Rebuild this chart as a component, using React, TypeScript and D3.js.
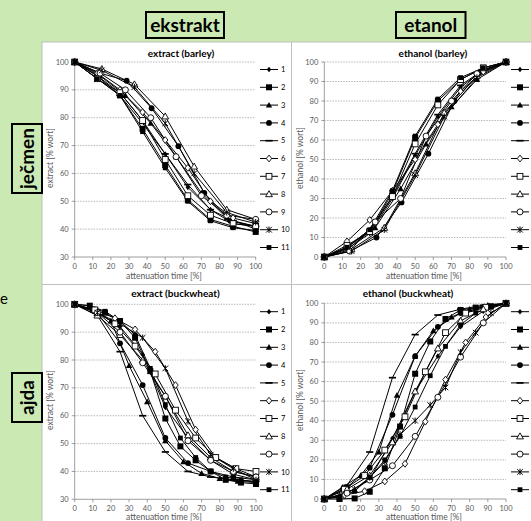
import React from 'react';
import * as d3 from 'd3';

// ---------- DATA ----------
const seriesNames = ['1', '2', '3', '4', '5', '6', '7', '8', '9', '10', '11'];
const markerTypes = ['sdiamond', 'square', 'triangle', 'circle', 'dash', 'odiamond', 'osquare', 'otriangle', 'ocircle', 'star', 'ssquare'];

const xTicks = [0, 10, 20, 30, 40, 50, 60, 70, 80, 90, 100];
const extractTicks = [30, 40, 50, 60, 70, 80, 90, 100];
const ethanolTicks = [0, 10, 20, 30, 40, 50, 60, 70, 80, 90, 100];

const g8 = [0, 12.5, 25, 37.5, 50, 62.5, 75, 87.5, 100];
const g12 = [0, 8.3, 16.7, 25, 33.3, 41.7, 50, 58.3, 66.7, 75, 83.3, 91.7, 100];
const g9 = [0, 11.1, 22.2, 33.3, 44.4, 55.6, 66.7, 77.8, 88.9, 100];
const g10 = [0, 10, 20, 30, 40, 50, 60, 70, 80, 90, 100];
const g7a = [0, 14, 28, 42, 56, 70, 84, 100];
const g7b = [0, 14, 28.7, 42.5, 57.3, 71.6, 86, 100];
const g6 = [0, 15, 33, 50, 66, 84, 100];

const extractBarleyX = [g8, g8, g7a, g7b, g8, g8, g8, g6, g7a, g6, g8];
const extractBarleyY = [
  [100, 95, 89, 79, 67, 55, 47, 42, 41],
  [100, 94, 88, 76, 63, 50.5, 43.5, 41, 39],
  [100, 95, 88, 78, 66, 53, 44, 40],
  [100, 96, 93.3, 83.4, 69.8, 53, 43, 41],
  [100, 95, 88, 78, 67, 56, 47, 43, 41],
  [100, 96, 90, 82, 72, 62, 50, 44, 42],
  [100, 94, 89, 79, 65, 52, 45, 42, 41],
  [100, 97.5, 92, 80.5, 62.5, 47, 43.5],
  [100, 96, 90, 80, 66, 52, 45, 43.5],
  [100, 97, 91, 78, 60, 46, 42.5],
  [100, 94, 88, 75, 62, 50, 43, 40.5, 39.5],
];

const ethanolBarleyX = [g8, g8, g7a, g7b, g8, g8, g8, g6, g7a, g6, g8];
const ethanolBarleyY = [
  [0, 4, 12, 30, 52, 72, 87, 96, 100],
  [0, 5, 13, 33, 61, 80, 91, 97, 100],
  [0, 5, 15, 35, 58, 77, 91, 100],
  [0, 3, 10, 28, 53, 80, 95, 100],
  [0, 5, 14, 31, 53, 73, 88, 96, 100],
  [0, 8, 19, 34, 50, 68, 85, 95, 100],
  [0, 6, 13, 31, 58, 78, 91, 97, 100],
  [0, 4, 15, 43, 74, 93, 100],
  [0, 3, 18, 30, 62, 80, 94, 100],
  [0, 3, 14, 42, 72, 92, 100],
  [0, 5, 14, 34, 62, 81, 92, 97, 100],
];

const extractBuckX = [g8, g12, g10, g8, g8, g9, g9, g8, g8, g8, g12];
const extractBuckY = [
  [100, 97, 92, 82, 63, 52, 44, 39, 37],
  [100, 99.5, 97, 94, 88, 76, 59, 49, 44, 40, 37, 36, 35.5],
  [100, 98, 94, 78, 65, 51, 43.5, 39.3, 37.5, 36.5, 36],
  [100, 97, 86, 71, 52, 43, 40, 38, 37],
  [100, 96, 83, 60, 47, 40, 38, 37, 36.5],
  [100, 98, 95, 91, 83, 71, 55, 45, 41, 38],
  [100, 98, 93, 85, 75, 62, 52, 45, 41, 40],
  [100, 96, 89, 80, 67, 53, 45, 40, 38],
  [100, 97, 90, 79, 67, 51, 44, 40, 38],
  [100, 97, 93, 88, 77, 58, 46, 41, 37],
  [100, 99.5, 97.5, 94, 89, 77, 64, 52, 45, 40, 38, 37, 36],
];

const ethanolBuckX = [g8, g12, g10, g8, g8, g9, g9, g8, g8, g12, g12];
const ethanolBuckY = [
  [0, 3, 10, 31, 55, 73, 88, 96, 100],
  [0, 0, 0.3, 3.7, 15.7, 37, 64, 80.5, 92, 96.6, 97.8, 98.5, 100],
  [0, 6, 12, 24, 53, 73, 86, 93, 97, 99, 100],
  [0, 6, 16, 43, 73, 88, 95, 98, 100],
  [0, 7, 24, 62, 84, 94, 97, 99, 100],
  [0, 2, 4, 9, 18, 39.5, 61, 80, 93, 100],
  [0, 5, 12, 25, 42, 65, 85, 95, 98, 100],
  [0, 5, 12, 29, 55, 77, 91, 97, 100],
  [0, 3, 9.7, 17, 32, 52, 72.5, 90, 100],
  [0, 2, 5, 11, 19, 33, 40, 48, 57, 75, 85, 95, 100],
  [0, 1, 4, 11, 20, 32, 47, 63, 78, 89, 95, 98, 100],
];

// ---------- DRAWING ----------
const FONT = 'Lato, "Open Sans", sans-serif';

function Marker({ type, cx, cy }: { type: string; cx: number; cy: number }) {
  const k = '#000';
  switch (type) {
    case 'sdiamond': {
      const r = 2.8;
      return <path d={`M${cx},${cy - r}L${cx + r * 0.8},${cy}L${cx},${cy + r}L${cx - r * 0.8},${cy}Z`} fill={k} />;
    }
    case 'square':
      return <rect x={cx - 3} y={cy - 3} width={6} height={6} fill={k} />;
    case 'ssquare':
      return <rect x={cx - 2.4} y={cy - 2.4} width={4.8} height={4.8} fill={k} />;
    case 'triangle':
      return <path d={`M${cx},${cy - 3.2}L${cx + 3.2},${cy + 2.5}L${cx - 3.2},${cy + 2.5}Z`} fill={k} />;
    case 'circle':
      return <circle cx={cx} cy={cy} r={2.9} fill={k} />;
    case 'dash':
      return <line x1={cx - 3.6} x2={cx + 3.6} y1={cy} y2={cy} stroke={k} strokeWidth={1.7} />;
    case 'odiamond': {
      const r = 3.4;
      return <path d={`M${cx},${cy - r}L${cx + r * 0.8},${cy}L${cx},${cy + r}L${cx - r * 0.8},${cy}Z`} fill="#fff" stroke={k} strokeWidth={0.9} />;
    }
    case 'osquare':
      return <rect x={cx - 2.9} y={cy - 2.9} width={5.8} height={5.8} fill="#fff" stroke={k} strokeWidth={0.9} />;
    case 'otriangle':
      return <path d={`M${cx},${cy - 3.4}L${cx + 3.4},${cy + 2.6}L${cx - 3.4},${cy + 2.6}Z`} fill="#fff" stroke={k} strokeWidth={0.9} />;
    case 'ocircle':
      return <circle cx={cx} cy={cy} r={3} fill="#fff" stroke={k} strokeWidth={0.9} />;
    case 'star':
      return (
        <path d={`M${cx - 2.8},${cy - 2.8}L${cx + 2.8},${cy + 2.8}M${cx - 2.8},${cy + 2.8}L${cx + 2.8},${cy - 2.8}M${cx},${cy - 3.2}L${cx},${cy + 3.2}`} stroke={k} strokeWidth={1} />
      );
    default:
      return null;
  }
}

type Box = { l: number; r: number; t: number; b: number };

function Panel(props: {
  box: Box;
  yDomain: [number, number];
  yTicks: number[];
  xs: number[][];
  ys: number[][];
  title: string;
  titleX: number;
  titleY: number;
  xTitleX: number;
  xTitleY: number;
  yTitle: string;
  yTitleX: number;
  yTitleY: number;
  legX: number;
  legY: number;
  legLabels: boolean;
}) {
  const { box } = props;
  const x = d3.scaleLinear().domain([0, 100]).range([box.l, box.r]);
  const y = d3.scaleLinear().domain(props.yDomain).range([box.b, box.t]);
  const line = d3.line<[number, number]>().x((d) => x(d[0])).y((d) => y(d[1]));
  const grid = '#a6a6a6';
  const axis = '#868686';
  const tickCol = '#595959';
  return (
    <g>
      {props.yTicks.slice(1).map((t) => (
        <line key={'g' + t} x1={box.l} x2={box.r} y1={y(t)} y2={y(t)} stroke={grid} strokeWidth={0.8} strokeDasharray="1.5,1.2" />
      ))}
      <line x1={box.l} x2={box.l} y1={box.t} y2={box.b} stroke={axis} strokeWidth={0.8} />
      <line x1={box.l} x2={box.r} y1={box.b} y2={box.b} stroke={axis} strokeWidth={0.8} />
      {props.yTicks.map((t) => (
        <g key={'yt' + t}>
          <line x1={box.l - 3} x2={box.l} y1={y(t)} y2={y(t)} stroke={axis} strokeWidth={0.8} />
          <text x={box.l - 6} y={y(t) + 2.6} fontSize={7.5} fill={tickCol} textAnchor="end" fontFamily={FONT}>{t}</text>
        </g>
      ))}
      {xTicks.map((t) => (
        <g key={'xt' + t}>
          <line x1={x(t)} x2={x(t)} y1={box.b} y2={box.b + 3} stroke={axis} strokeWidth={0.8} />
          <text x={x(t)} y={box.b + 12} fontSize={7.5} fill={tickCol} textAnchor="middle" fontFamily={FONT}>{t}</text>
        </g>
      ))}
      <text x={props.titleX} y={props.titleY} fontSize={10} fontWeight="bold" fill="#000" textAnchor="middle" fontFamily={FONT}>{props.title}</text>
      <text x={props.xTitleX} y={props.xTitleY} fontSize={8.5} fill={tickCol} textAnchor="middle" fontFamily={FONT}>attenuation time [%]</text>
      <text transform={`translate(${props.yTitleX},${props.yTitleY}) rotate(-90)`} fontSize={8.5} fill={tickCol} textAnchor="middle" fontFamily={FONT}>{props.yTitle}</text>
      {props.xs.map((xsArr, i) => {
        const pts = xsArr.map((v, j) => [v, props.ys[i][j]] as [number, number]);
        return <path key={'l' + i} d={line(pts) || ''} fill="none" stroke="#000" strokeWidth={1} />;
      })}
      {props.xs.map((xsArr, i) =>
        xsArr.map((v, j) => <Marker key={'m' + i + '-' + j} type={markerTypes[i]} cx={x(v)} cy={y(props.ys[i][j])} />)
      )}
      {seriesNames.map((n, i) => {
        const ly = props.legY + i * 17.8;
        return (
          <g key={'lg' + i}>
            <line x1={props.legX} x2={props.legX + 18} y1={ly} y2={ly} stroke="#000" strokeWidth={1} />
            <Marker type={markerTypes[i]} cx={props.legX + 9} cy={ly} />
            {props.legLabels && (
              <text x={props.legX + 21} y={ly + 2.7} fontSize={7.5} fill="#000" fontFamily={FONT}>{n}</text>
            )}
          </g>
        );
      })}
    </g>
  );
}

export default function App() {
  const W = 531;
  const H = 521;
  const green = '#cbe9b3';
  return (
    <svg width={W} height={H} style={{ position: 'absolute', left: 0, top: 0, display: 'block' }}>
      <rect x={0} y={0} width={W} height={H} fill={green} />
      <rect x={42} y={42} width={W - 41} height={H - 41} fill="#fff" stroke="#bfbfbf" strokeWidth={1} />
      <line x1={291.5} x2={291.5} y1={42} y2={H} stroke="#bfbfbf" strokeWidth={1} />
      <line x1={42} x2={W} y1={284.5} y2={284.5} stroke="#bfbfbf" strokeWidth={1} />

      {/* headings */}
      <rect x={146} y={12} width={78} height={26} fill="none" stroke="#000" strokeWidth={2} />
      <text x={185} y={31.5} fontSize={19} fontWeight="bold" textAnchor="middle" fontFamily={FONT}>ekstrakt</text>
      <rect x={396} y={12} width={69.5} height={26} fill="none" stroke="#000" strokeWidth={2} />
      <text x={430.7} y={31.5} fontSize={19} fontWeight="bold" textAnchor="middle" fontFamily={FONT}>etanol</text>
      <rect x={12} y={124} width={30} height={69} fill="none" stroke="#000" strokeWidth={2} />
      <text transform="translate(34,158.5) rotate(-90)" fontSize={19} fontWeight="bold" textAnchor="middle" fontFamily={FONT}>ječmen</text>
      <rect x={12} y={373} width={30} height={49} fill="none" stroke="#000" strokeWidth={2} />
      <text transform="translate(34,397.5) rotate(-90)" fontSize={19} fontWeight="bold" textAnchor="middle" fontFamily={FONT}>ajda</text>
      <text x={0} y={304} fontSize={15} fontFamily={FONT}>e</text>

      <Panel box={{ l: 74.7, r: 255.7, t: 62, b: 257 }} yDomain={[30, 100]} yTicks={extractTicks}
        xs={extractBarleyX} ys={extractBarleyY} title="extract (barley)" titleX={181} titleY={56.5}
        xTitleX={164} xTitleY={279} yTitle="extract [% wort]" yTitleX={53} yTitleY={158} legX={260} legY={69.5} legLabels={true} />
      <Panel box={{ l: 324.3, r: 506, t: 62, b: 257 }} yDomain={[0, 100]} yTicks={ethanolTicks}
        xs={ethanolBarleyX} ys={ethanolBarleyY} title="ethanol (barley)" titleX={433} titleY={56.5}
        xTitleX={424} xTitleY={279} yTitle="ethanol [% wort]" yTitleX={303} yTitleY={158} legX={511} legY={69.5} legLabels={false} />
      <Panel box={{ l: 74.7, r: 256, t: 304.3, b: 499.3 }} yDomain={[30, 100]} yTicks={extractTicks}
        xs={extractBuckX} ys={extractBuckY} title="extract (buckwheat)" titleX={175.5} titleY={297}
        xTitleX={164} xTitleY={520} yTitle="extract [% wort]" yTitleX={53} yTitleY={400} legX={260} legY={311.7} legLabels={true} />
      <Panel box={{ l: 324.3, r: 506, t: 303.3, b: 499 }} yDomain={[0, 100]} yTicks={ethanolTicks}
        xs={ethanolBuckX} ys={ethanolBuckY} title="ethanol (buckwheat)" titleX={408} titleY={297}
        xTitleX={424} xTitleY={520} yTitle="ethanol [% wort]" yTitleX={303} yTitleY={400} legX={511} legY={311.7} legLabels={false} />
    </svg>
  );
}
